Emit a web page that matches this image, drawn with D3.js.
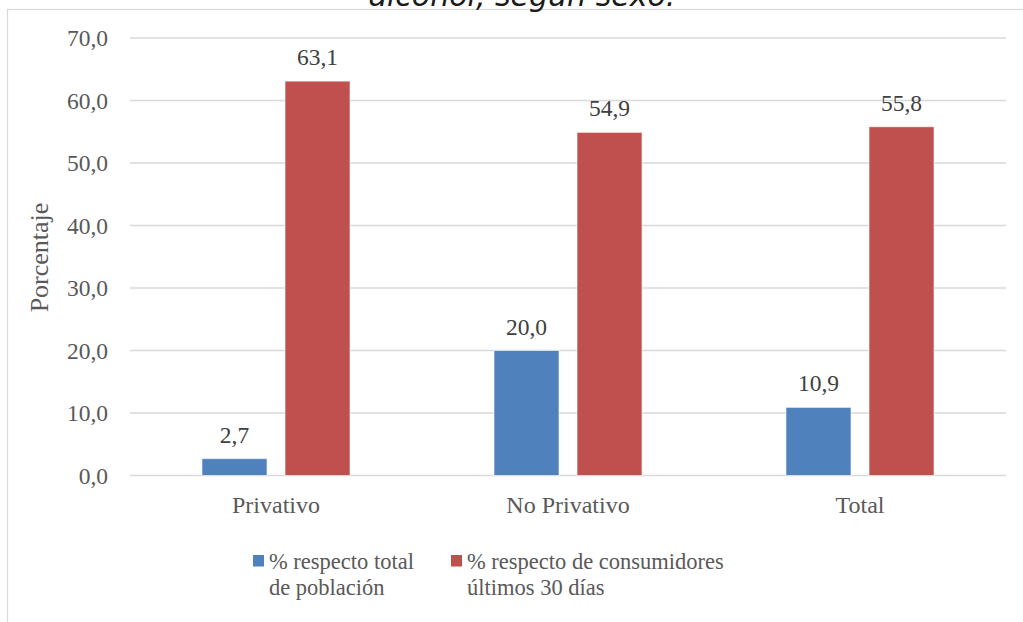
<!DOCTYPE html>
<html>
<head>
<meta charset="utf-8">
<script src="https://cdn.jsdelivr.net/npm/d3@7"></script>
<style>
  html, body { margin: 0; padding: 0; background: #fff; }
  svg { display: block; }
  .serif { font-family: 'Liberation Serif', 'Times New Roman', serif; }
</style>
</head>
<body>
<svg id="chart" width="1023" height="622"></svg>
<script>
// Data
const categories = ["Privativo", "No Privativo", "Total"];
const seriesNames = ["% respecto total de población", "% respecto de consumidores últimos 30 días"];
const seriesLegendLines = [["% respecto total", "de población"], ["% respecto de consumidores", "últimos 30 días"]];
const totalPoblacion = [2.7, 20.0, 10.9];
const consumidores30 = [63.1, 54.9, 55.8];
const yTicks = [0, 10, 20, 30, 40, 50, 60, 70];
const colors = ["#4F81BD", "#C0504D"];

const series = [totalPoblacion, consumidores30];
const fmt = v => v.toFixed(1).replace(".", ",");

const svg = d3.select("#chart");
const W = 1023, H = 622;
const margin = { left: 130, right: 17, top: 38, bottom: 146.5 };

const serifFont = "'Liberation Serif', serif";

// Chart area border (extends beyond the visible page)
svg.append("rect")
  .attr("x", 7.5).attr("y", 9.5)
  .attr("width", W + 20).attr("height", H + 20)
  .attr("fill", "none").attr("stroke", "#d9d9d9").attr("stroke-width", 1.2);

// Title, partly above the top edge
svg.append("text")
  .attr("x", 522).attr("y", 6)
  .attr("text-anchor", "middle")
  .attr("font-family", "'DejaVu Sans', sans-serif")
  .attr("font-style", "italic")
  .attr("font-size", 30)
  .attr("fill", "#1a1a1a")
  .text("alcohol, según sexo.");

const x0 = d3.scaleBand()
  .domain(categories)
  .range([margin.left, W - margin.right])
  .paddingInner(0.493)
  .paddingOuter(0.2465);

const x1 = d3.scaleBand()
  .domain(d3.range(series.length))
  .range([0, x0.bandwidth()])
  .paddingInner(0.217);

const y = d3.scaleLinear()
  .domain([0, 70])
  .range([H - margin.bottom, margin.top]);

// Gridlines
svg.append("g")
  .selectAll("line")
  .data(yTicks)
  .join("line")
  .attr("x1", margin.left).attr("x2", W - margin.right)
  .attr("y1", d => y(d)).attr("y2", d => y(d))
  .attr("stroke", "#d9d9d9").attr("stroke-width", 1.3);

// Y axis tick labels
const yAxis = d3.axisLeft(y).tickValues(yTicks).tickFormat(fmt).tickSize(0).tickPadding(22);
const gy = svg.append("g").attr("transform", `translate(${margin.left},0)`).call(yAxis);
gy.select(".domain").remove();
gy.attr("font-family", null).attr("font-size", null);
gy.selectAll("text")
  .attr("class", "serif")
  .attr("font-size", 23.5)
  .attr("fill", "#595959");

// X axis category labels
const xAxis = d3.axisBottom(x0).tickSize(0).tickPadding(20.5);
const gx = svg.append("g").attr("transform", `translate(0,${y(0)})`).call(xAxis);
gx.select(".domain").remove();
gx.attr("font-family", null).attr("font-size", null);
gx.selectAll("text")
  .attr("class", "serif")
  .attr("font-size", 24)
  .attr("fill", "#595959");

// Bars
const groups = svg.append("g")
  .selectAll("g")
  .data(categories)
  .join("g")
  .attr("transform", d => `translate(${x0(d)},0)`);

groups.selectAll("rect")
  .data((c, i) => series.map((s, k) => ({ k, v: s[i] })))
  .join("rect")
  .attr("x", d => x1(d.k))
  .attr("width", x1.bandwidth())
  .attr("y", d => y(d.v))
  .attr("height", d => y(0) - y(d.v))
  .attr("fill", d => colors[d.k])
  .attr("stroke", "#ffffff")
  .attr("stroke-opacity", 0.6)
  .attr("stroke-width", 1);

// Value labels
groups.selectAll("text.value")
  .data((c, i) => series.map((s, k) => ({ k, v: s[i] })))
  .join("text")
  .attr("class", "value serif")
  .attr("x", d => x1(d.k) + x1.bandwidth() / 2)
  .attr("y", d => y(d.v) - 16)
  .attr("text-anchor", "middle")
  .attr("font-size", 23.5)
  .attr("fill", "#404040")
  .text(d => fmt(d.v));

// Y axis title
svg.append("text")
  .attr("class", "serif")
  .attr("transform", "translate(47.5,257.5) rotate(-90)")
  .attr("text-anchor", "middle")
  .attr("font-size", 26)
  .attr("fill", "#595959")
  .text("Porcentaje");

// Legend
const legendX = [253, 451];
const legend = svg.append("g")
  .selectAll("g")
  .data(seriesNames)
  .join("g")
  .attr("transform", (d, i) => `translate(${legendX[i]},555)`);

legend.append("rect")
  .attr("width", 11).attr("height", 11.5)
  .attr("fill", (d, i) => colors[i]);

legend.append("text")
  .attr("class", "serif")
  .attr("font-size", 22.5)
  .attr("fill", "#595959")
  .selectAll("tspan")
  .data((d, i) => seriesLegendLines[i])
  .join("tspan")
  .attr("class", "serif")
  .attr("x", 16)
  .attr("y", (d, j) => 14 + j * 26)
  .text(d => d);
</script>
</body>
</html>
